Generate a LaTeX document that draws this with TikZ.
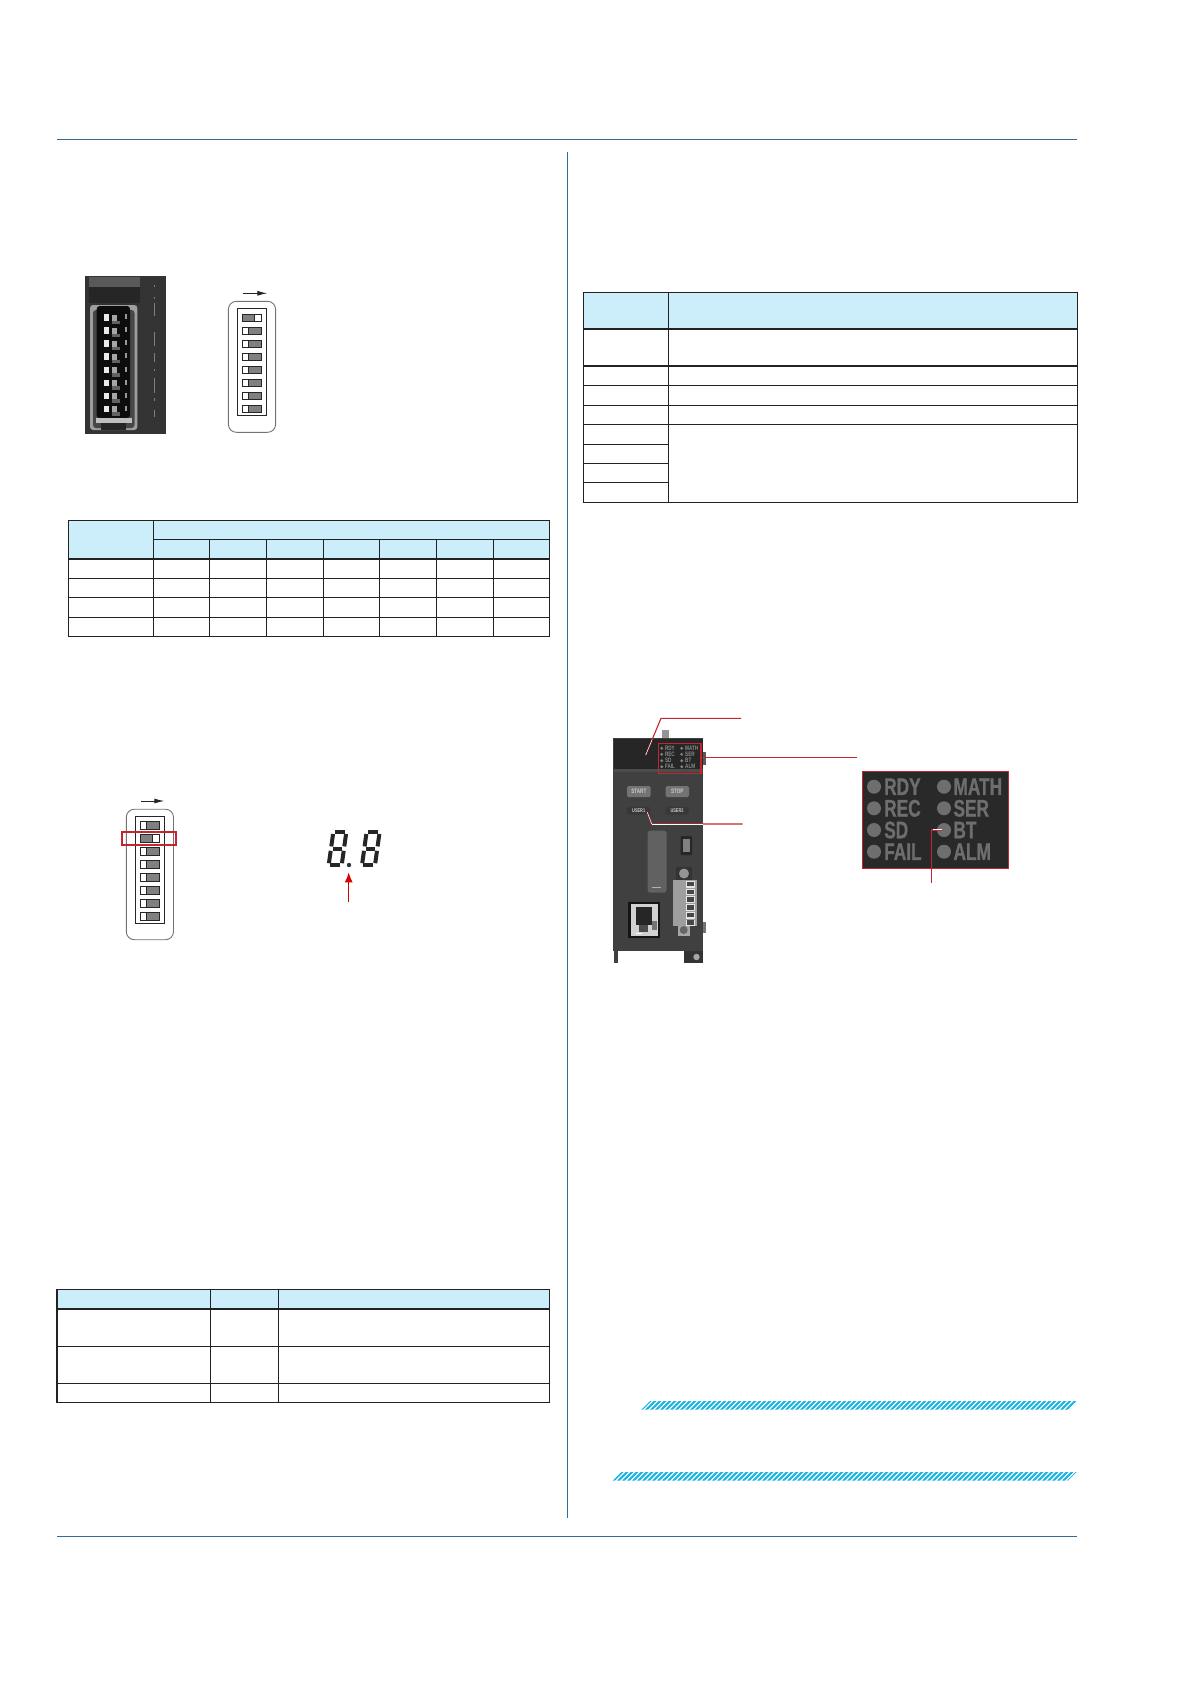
\documentclass[tikz,border=0pt]{standalone}
\usepackage{fontspec}
\setmainfont{Liberation Sans}
\newfontfamily\condfont[FakeStretch=0.72]{Liberation Sans}
\newfontfamily\ledfont[FakeStretch=0.72,FakeBold=0.8]{Liberation Sans Bold}
\usetikzlibrary{arrows.meta,calc}
\definecolor{hdr}{HTML}{CCEEFB}
\definecolor{tline}{HTML}{222222}
\definecolor{rulec}{HTML}{3A6A8F}
\definecolor{vrulec}{HTML}{2C6EA3}
\definecolor{redl}{HTML}{C4262E}
\definecolor{hatchc}{HTML}{1FB5E0}
\definecolor{bodyc}{HTML}{404040}
\definecolor{ledc}{HTML}{6E6E6E}
\tikzset{
  thin line/.style={draw=tline,line width=1.1pt},
  thick line/.style={draw=tline,line width=2.2pt},
  hdrfill/.style={fill=hdr,draw=none},
  leader/.style={draw=redl,line width=1.1pt},
  leadercore/.style={draw=white,line width=0.5pt},
  redbox/.style={draw=redl,line width=1.1pt},
  dipsw/.style={draw=black!85,line width=1pt},
  greypart/.style={fill=black!50},
  ledtext/.style={text=ledc,anchor=west,inner sep=0pt,font=\ledfont\fontsize{24}{24}\selectfont},
  smalltext/.style={text=black!45,anchor=west,inner sep=0pt,font=\condfont\bfseries\fontsize{6.4}{7}\selectfont},
  btntext/.style={text=white!80!black,inner sep=0pt,font=\condfont\bfseries\fontsize{6.4}{7}\selectfont},
  segline/.style={draw=black!85,line width=4pt},
  hatchline/.style={draw=hatchc,line width=2.1pt},
}
\newcommand{\dipblock}[5]{%
  % #1 outline left #2 outline top #3 outline height #4 first switch offset #5 index of on switch
  \begin{scope}[shift={(#1,#2)}]
    \draw[draw=black!55,line width=0.9pt,rounded corners=8pt] (0,0) rectangle (47.2,#3);
    \draw[draw=black!85,line width=1.1pt] (9.2,7.2) rectangle (38.4,114.2);
    \foreach \i in {1,...,8}{
      \pgfmathsetmacro{\yy}{#4+(\i-1)*13}
      \ifnum\i=#5\relax
        \fill[greypart] (14.5,\yy) rectangle (26.2,\yy+7.6);
      \else
        \fill[greypart] (20.5,\yy) rectangle (32.7,\yy+7.6);
      \fi
      \draw[dipsw] (14.5,\yy) rectangle (32.7,\yy+7.6);
      \ifnum\i=#5\relax
        \draw[dipsw] (26.2,\yy) -- (26.2,\yy+7.6);
      \else
        \draw[dipsw] (20.5,\yy) -- (20.5,\yy+7.6);
      \fi
    }
  \end{scope}}
\newcommand{\digitseg}[2]{%
  \begin{scope}[shift={(#1,#2)},xslant=0.14]
    \foreach \a/\b/\c/\d in {3.4/2/13.4/2, 4/18.6/12.8/18.6, 3.4/35.2/13.4/35.2,
      1.9/4/1.9/16.4, 14.9/4/14.9/16.4, 1.9/20.8/1.9/33.2, 14.9/20.8/14.9/33.2}
      \draw[segline] (\a,\b) -- (\c,\d);
  \end{scope}}
\begin{document}
\begin{tikzpicture}[x=1pt,y=-1pt]
\useasboundingbox (0,0) rectangle (1191,1684);
\fill[white] (0,0) rectangle (1191,1684);
% page rules
\draw[draw=rulec,line width=1.1pt] (57,139.6) -- (1077,139.6);
\draw[draw=rulec,line width=1.1pt] (57,1536.5) -- (1077,1536.5);
\draw[draw=vrulec,line width=1pt] (567,152) -- (567,1518);

% ---------- Photo 1
\fill[black!80] (85,276) rectangle (166,433.7);
\fill[black!65] (89.3,276.5) rectangle (140,287);
\fill[black!85] (89.3,287) rectangle (140,303);
\fill[black!38,rounded corners=3pt] (90,305) rectangle (137.3,430);
\fill[black!72,rounded corners=3pt] (93,310) rectangle (134.5,428);
\fill[black!95,rounded corners=3pt] (96.7,306) rectangle (130,418);
\fill[black!25] (96,418) rectangle (132,423);
\fill[black!85] (101,423) rectangle (126,430);
\foreach \i in {0,...,7}{
  \pgfmathsetmacro{\yy}{314.3+\i*13.05}
  \fill[black!8] (104,\yy) rectangle (109.3,\yy+6.6);
  \fill[black!35] (111.7,\yy+0.5) rectangle (117.3,\yy+6.6);
  \fill[black!62] (111.7,\yy+6.6) rectangle (120,\yy+10);
  \fill[black!40] (124.5,\yy) rectangle (126.5,\yy+5);
}
\foreach \yy/\hh in {285/2,297/1.5,303/13,332/14,353/9,369/2,378/15,398/3,410/7}
  \fill[black!50] (153.5,\yy) rectangle (155.3,\yy+\hh);

% ---------- DIP 1
\dipblock{228.4}{301.3}{131}{13}{1}
\draw[-{Latex[length=10pt,width=5pt]},draw=black!85,line width=0.9pt] (243,293.3) -- (267.3,293.3);

% ---------- Table 1
\fill[hdrfill] (68.3,520.3) rectangle (549.3,558.7);
\foreach \yy in {578.3,597.3,617.3} \draw[thin line] (68.3,\yy) -- (549.3,\yy);
\draw[thin line] (153.7,539.3) -- (549.3,539.3);
\foreach \xx in {209.7,266.3,323.3,379.3,436.7,493.7} \draw[thin line] (\xx,539.3) -- (\xx,636.3);
\draw[thin line] (153.7,520.3) -- (153.7,636.3);
\draw[thin line] (68.3,520.3) rectangle (549.3,636.3);
\draw[thick line] (68.3,558.7) -- (549.3,558.7);

% ---------- DIP 2
\dipblock{126.3}{809.2}{130.5}{12.2}{2}
\draw[-{Latex[length=10pt,width=5pt]},draw=black!85,line width=0.9pt] (141,801) -- (164.3,801);
\draw[draw=redl,line width=1.7pt] (121.7,831.7) rectangle (175.7,845.3);

% ---------- seven segment
\digitseg{331.7}{830}
\digitseg{365}{830}
\fill[black!80] (349,865) circle (2.2);
\draw[-{Latex[length=10pt,width=8pt]},draw=red!85!black,line width=1.4pt] (348.7,901.7) -- (348.7,872.3);

% ---------- Table 2
\fill[hdrfill] (57,1289.3) rectangle (549.5,1308.7);
\foreach \yy in {1346.3,1383.3} \draw[thin line] (57,\yy) -- (549.5,\yy);
\foreach \xx in {210.7,278.7} \draw[thin line] (\xx,1289.3) -- (\xx,1402.3);
\draw[thin line] (57,1289.3) rectangle (549.5,1402.3);
\draw[thick line] (57,1308.7) -- (549.5,1308.7);

% ---------- Table 3
\fill[hdrfill] (583.3,292.3) rectangle (1077.3,328.7);
\foreach \yy in {366,385.3,405.3,424.3} \draw[thin line] (583.3,\yy) -- (1077.3,\yy);
\foreach \yy in {444.3,463.3,482.3} \draw[thin line] (583.3,\yy) -- (668.3,\yy);
\draw[thin line] (668.3,292.3) -- (668.3,502.3);
\draw[thin line] (583.3,292.3) rectangle (1077.3,502.3);
\draw[thick line] (583.3,328.7) -- (1077.3,328.7);

% ---------- Device photo
\fill[black!42] (661.7,730) rectangle (669,738);
\fill[bodyc] (612.7,737.7) rectangle (703.3,950.7);
\fill[black!85] (613.5,738.5) rectangle (703.3,769);
\fill[black!70] (613.5,769) rectangle (703.3,772);
\fill[black!65] (703.3,752) rectangle (706,765);
\fill[black!55] (703.3,922) rectangle (706,933);
\fill[black!75] (614,950.7) rectangle (618,963.3);
\fill[black!80] (684,950.7) rectangle (703.3,963.3);
\fill[black!35] (696.5,957) circle (3.2);
\fill[black!55,rounded corners=1.5pt] (627,786) rectangle (650.7,797);
\fill[black!55,rounded corners=1.5pt] (665.7,786) rectangle (689,797);
\fill[black!78,rounded corners=3pt] (626.7,806.7) rectangle (650.7,814.7);
\fill[black!78,rounded corners=3pt] (665,806.7) rectangle (689,814.7);
\node[btntext] (bstart) at (638.8,791.5) {START};
\node[btntext] (bstop) at (677.3,791.5) {STOP};
\node[btntext,font=\condfont\bfseries\fontsize{5.4}{6}\selectfont] (buser1) at (638.7,810.7) {USER1};
\node[btntext,font=\condfont\bfseries\fontsize{5.4}{6}\selectfont] (buser2) at (677,810.7) {USER2};
\fill[black!62,rounded corners=2.5pt] (647.7,830.7) rectangle (666.5,892.5);
\draw[black!30,line width=0.7pt] (652,887) -- (661,887);
\fill[black!85,rounded corners=1pt] (680.5,836) rectangle (692,855);
\fill[black!50] (683,839) rectangle (689.5,852);
\fill[black!80] (676,866.7) rectangle (692,881);
\fill[black!42] (684,873.5) circle (5);
\fill[black!35] (678,925) rectangle (689.5,936);
\fill[black!60] (683.7,930) circle (4);
\fill[black!38] (673.3,880) rectangle (697.3,925.5);
\foreach \i in {0,...,5}{
  \pgfmathsetmacro{\yy}{881+\i*7.7}
  \fill[black!10] (686,\yy) rectangle (695,\yy+6.7);
  \fill[black!72] (687.3,\yy+0.8) rectangle (693.5,\yy+5.4);
}
\fill[black!92] (628.3,901.7) rectangle (660,938.3);
\fill[black!18] (630.7,904.3) rectangle (658.3,935.7);
\fill[black!85] (636,906.7) rectangle (651.7,925);
\fill[black!70] (639,925) rectangle (648,931.7);
\fill[black!55] (651.7,921) rectangle (657,930);
\fill[white] (636,932.5) rectangle (642,933.5);
% small red box with labels
\foreach \yy/\a/\b in {748.3/RDY/MATH,754.3/REC/SER,760.7/SD/BT,766.7/FAIL/ALM}{
  \fill[black!50] (661.7,\yy) circle (1.6);
  \fill[black!50] (681.7,\yy) circle (1.6);
  \node[smalltext] at (664.8,\yy) {\a};
  \node[smalltext] at (685,\yy) {\b};
}
\draw[redbox] (658.3,743.3) rectangle (701,773.3);
% leaders
\coordinate (la) at (645.7,755);
\coordinate (lb) at (661,718.3);
\coordinate (lc) at (741,718.3);
\coordinate (ld) at (701,757.3);
\coordinate (le) at (857.3,757.3);
\coordinate (lf) at (647.3,812.3);
\coordinate (lg) at (651.7,824);
\coordinate (lh) at (742.7,824);
\draw[leader] (la) -- (lb) -- (lc);
\draw[leader] (ld) -- (le);
\draw[leader] (lf) -- (lg) -- (lh);
\draw[leadercore] (la) -- ($(la)!0.42!(lb)$);
\draw[leadercore] (lf) -- (lg);
\draw[leadercore] (lg) -- (703,824);

% ---------- LED panel
\fill[black!84] (862.7,771.7) rectangle (1008.3,868.3);
\draw[redbox] (862.7,771.7) rectangle (1008.3,868.3);
\foreach \yy/\a/\b in {786.7/RDY/MATH,808.3/REC/SER,830/SD/BT,851.7/FAIL/ALM}{
  \fill[ledc] (874,\yy) circle (7);
  \fill[ledc] (944,\yy) circle (7);
  \node[ledtext] at (884,\yy) {\a};
  \node[ledtext] at (953.3,\yy) {\b};
}
\coordinate (pa) at (941.7,830);
\coordinate (pb) at (931.7,830);
\coordinate (pc) at (931.7,883.3);
\draw[leader] (pa) -- (pb) -- (pc);
\draw[white,line width=0.7pt] (941.7,829.3) -- (932.5,829.3);

% ---------- Hatched bars
\begin{scope}
\clip (641.3,1409.7) -- (650,1401) -- (1076.7,1401) -- (1068,1409.7) -- cycle;
\foreach \xx in {640,645,...,1075} \draw[hatchline] (\xx,1411) -- (\xx+11,1400);
\end{scope}
\begin{scope}
\clip (612.7,1480.7) -- (621.4,1472) -- (1076.7,1472) -- (1068,1480.7) -- cycle;
\foreach \xx in {612,617,...,1075} \draw[hatchline] (\xx,1482) -- (\xx+11,1471);
\end{scope}
\end{tikzpicture}
\end{document}
